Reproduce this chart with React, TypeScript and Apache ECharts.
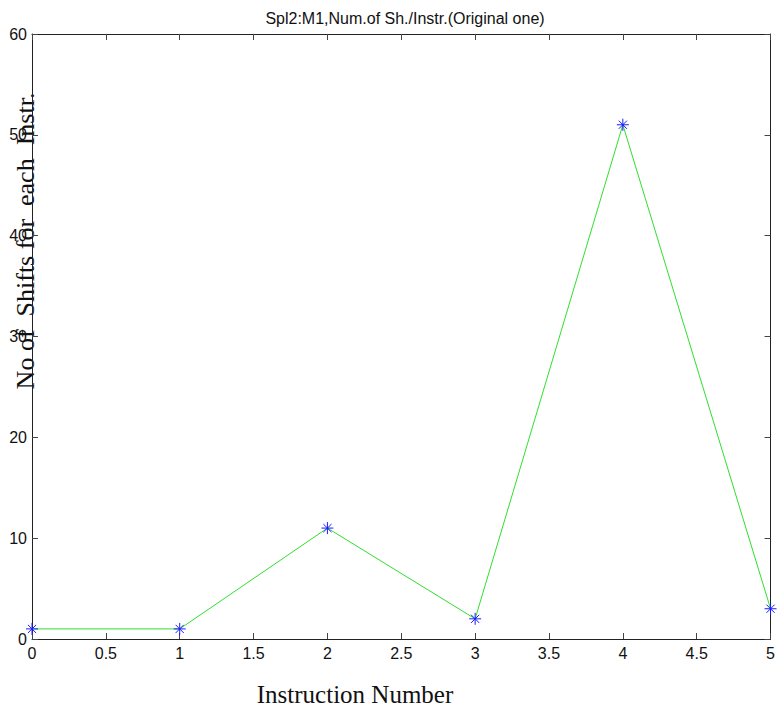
import React, { useEffect, useRef } from "react";
import * as echarts from "echarts";

const title = "Spl2:M1,Num.of Sh./Instr.(Original one)";
const xName = "Instruction Number";
const yName = "No of  Shifts for  each  Instr.";
const instructions = [0, 1, 2, 3, 4, 5];
const shifts = [1, 1, 11, 2, 51, 3];

const asterisk =
  "path://M5 0 L5 10 M0 5 L10 5 M1.6 1.6 L8.4 8.4 M1.6 8.4 L8.4 1.6";

export default function App() {
  const ref = useRef<HTMLDivElement>(null);
  useEffect(() => {
    if (!ref.current) return;
    const chart = echarts.init(ref.current, null, { renderer: "svg" });
    const axisLine = () => ({ show: true, onZero: false, lineStyle: { color: "#222", width: 1 } });
    const tick = () => ({ show: true, inside: true, length: 6, lineStyle: { color: "#444" } });
    const labelFont = { fontFamily: "Liberation Sans, Arial, sans-serif", fontSize: 16, color: "#111" };
    chart.setOption({
      animation: false,
      backgroundColor: "#fff",
      grid: { left: 32, right: 5, top: 34, bottom: 72, containLabel: false },
      title: {
        text: title,
        left: 400,
        textAlign: "center",
        top: 5,
        textStyle: { fontFamily: "Liberation Sans, Arial, sans-serif", fontSize: 16, fontWeight: "normal", color: "#111" },
      },
      xAxis: [
        {
          type: "value",
          min: 0,
          max: 5,
          interval: 0.5,
          axisLine: axisLine(),
          axisTick: tick(),
          splitLine: { show: false },
          axisLabel: { ...labelFont, margin: 6 },
        },
        {
          type: "value",
          position: "top",
          min: 0,
          max: 5,
          interval: 0.5,
          axisLine: axisLine(),
          axisTick: tick(),
          splitLine: { show: false },
          axisLabel: { show: false },
        },
      ],
      yAxis: [
        {
          type: "value",
          min: 0,
          max: 60,
          interval: 10,
          axisLine: axisLine(),
          axisTick: tick(),
          splitLine: { show: false },
          axisLabel: { ...labelFont, margin: 5 },
        },
        {
          type: "value",
          position: "right",
          min: 0,
          max: 60,
          interval: 10,
          axisLine: axisLine(),
          axisTick: tick(),
          splitLine: { show: false },
          axisLabel: { show: false },
        },
      ],
      graphic: [
        {
          type: "text",
          x: 25,
          y: 241,
          rotation: Math.PI / 2,
          style: {
            text: yName,
            fontFamily: "Liberation Serif, Times New Roman, serif",
            fontSize: 26,
            fill: "#111",
            align: "center",
            verticalAlign: "middle",
          },
        },
        {
          type: "text",
          x: 355,
          y: 694,
          style: {
            text: xName,
            fontFamily: "Liberation Serif, Times New Roman, serif",
            fontSize: 25,
            fill: "#111",
            align: "center",
            verticalAlign: "middle",
          },
        },
      ],
      series: [
        {
          type: "line",
          data: instructions.map((x, i) => [x, shifts[i]]),
          clip: false,
          symbol: asterisk,
          symbolSize: 12,
          lineStyle: { color: "#2ee02e", width: 1 },
          itemStyle: { color: "transparent", borderColor: "#1a1aff", borderWidth: 1 },
        },
      ],
    });
    return () => chart.dispose();
  }, []);
  return <div ref={ref} style={{ width: 778, height: 711, position: "absolute", left: 0, top: 0 }} />;
}
